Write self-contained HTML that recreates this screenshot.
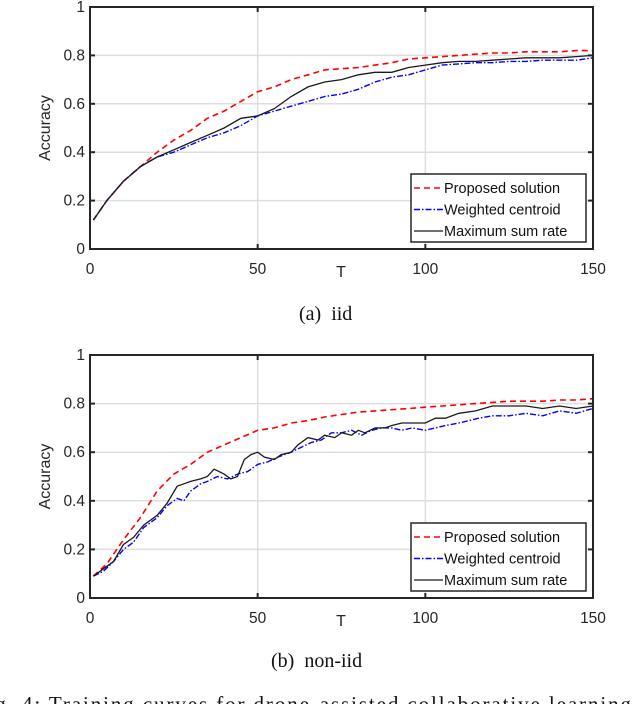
<!DOCTYPE html>
<html><head><meta charset="utf-8"><style>
html,body{margin:0;padding:0;background:#fff;width:636px;height:704px;overflow:hidden;position:relative}
svg{position:absolute;left:0;top:0}
.cap{position:absolute;font-family:"Liberation Serif",serif;font-size:20px;color:#111;white-space:nowrap}
</style></head><body>
<svg id="chart" width="636" height="704"></svg>
<div class="cap" style="left:299px;top:303px">(a)&nbsp; iid</div>
<div class="cap" style="left:271px;top:650px">(b)&nbsp; non-iid</div>
<div class="cap" style="left:-26px;top:692px;font-size:21px;letter-spacing:1.9px">Fig. 4: Training curves for drone-assisted collaborative learning</div>
<script>
const xTicks=[0,50,100,150];
const yTicks=[0,0.2,0.4,0.6,0.8,1];
const yTickLabels=["0","0.2","0.4","0.6","0.8","1"];
const seriesNames=["Proposed solution","Weighted centroid","Maximum sum rate"];
// iid
const iidPropT=[1,5,10,15,20,25,30,35,40,45,50,55,60,65,70,75,80,85,90,95,100,105,110,115,120,125,130,135,140,145,150];
const iidPropV=[.12,.2,.28,.34,.4,.45,.49,.54,.57,.61,.65,.67,.7,.72,.74,.745,.75,.76,.77,.785,.79,.795,.8,.805,.81,.81,.815,.815,.815,.82,.82];
const iidWcT=[1,5,10,15,20,25,30,35,40,45,50,55,60,65,70,75,80,85,90,95,100,105,110,115,120,125,130,135,140,145,150];
const iidWcV=[.12,.2,.28,.34,.38,.4,.43,.46,.48,.51,.55,.57,.59,.61,.63,.64,.66,.69,.71,.72,.74,.76,.765,.77,.77,.775,.775,.78,.78,.78,.79];
const iidMsT=[1,5,10,15,20,25,30,35,40,45,50,55,60,65,70,75,80,85,90,95,100,105,110,115,120,125,130,135,140,145,150];
const iidMsV=[.12,.2,.28,.34,.38,.41,.44,.47,.5,.54,.55,.58,.63,.67,.69,.7,.72,.73,.73,.75,.76,.77,.775,.775,.78,.785,.79,.79,.79,.795,.8];
// non-iid
const nPropT=[1,5,10,15,20,25,30,35,40,45,50,55,60,65,70,75,80,85,90,95,100,105,110,115,120,125,130,135,140,145,150];
const nPropV=[.09,.14,.24,.33,.44,.51,.55,.6,.63,.66,.69,.7,.72,.73,.745,.755,.765,.77,.775,.78,.785,.79,.795,.8,.805,.81,.81,.81,.815,.815,.82];
const nMsT=[1,4,7,10,13,16,20,23,26,28,30,33,35,37,40,42,44,46,48,50,52,55,57,60,62,65,68,70,73,75,78,80,82,85,88,90,93,95,98,100,103,106,110,115,120,125,130,135,140,145,150];
const nMsV=[.09,.12,.15,.22,.25,.3,.34,.39,.46,.47,.48,.49,.5,.53,.51,.49,.5,.57,.59,.6,.58,.57,.59,.6,.63,.66,.65,.67,.66,.68,.67,.69,.68,.7,.7,.71,.72,.72,.72,.72,.74,.74,.76,.77,.79,.79,.79,.78,.79,.78,.79];
const nWcT=[1,4,7,10,13,16,20,23,26,28,30,33,35,38,41,44,47,50,53,56,60,63,66,69,72,75,78,81,84,87,90,93,96,100,103,106,110,113,116,120,125,130,135,140,145,150];
const nWcV=[.09,.11,.15,.2,.23,.29,.33,.38,.41,.4,.44,.47,.48,.5,.49,.51,.52,.55,.56,.58,.6,.62,.64,.65,.68,.68,.69,.67,.69,.7,.7,.69,.7,.69,.7,.71,.72,.73,.74,.75,.75,.76,.75,.77,.76,.78];

const NS="http://www.w3.org/2000/svg";
const svg=document.getElementById('chart');
function mk(t,a,p){const e=document.createElementNS(NS,t);for(const k in a)e.setAttribute(k,a[k]);(p||svg).appendChild(e);return e;}
const X0=90,X1=593;
function drawPanel(top,bottom,series,legTop,name){
  const g=mk('g',{});
  
  
  const sx=v=>X0+(v/150)*(X1-X0);
  const sy=v=>bottom-v*(bottom-top);
  xTicks.forEach(t=>{if(t>0&&t<150){const l=mk('line',{x1:sx(t),x2:sx(t),y1:top,y2:bottom,stroke:'#dedede','stroke-width':1.5},g);}});
  yTicks.forEach(t=>{if(t>0&&t<1){const l=mk('line',{x1:X0,x2:X1,y1:sy(t),y2:sy(t),stroke:'#dedede','stroke-width':1.5},g);}});
  const styles=[{c:'#ff0000',d:'6,4',w:1.6},{c:'#0000ff',d:'6,2,1.5,2',w:1.4},{c:'#1a1a1a',d:'',w:1.3}];
  series.forEach((s,i)=>{
    const pts=s[0].map((t,j)=>sx(t).toFixed(1)+','+sy(s[1][j]).toFixed(1)).join(' ');
    const p=mk('polyline',{points:pts,fill:'none',stroke:styles[i].c,'stroke-width':styles[i].w,'stroke-dasharray':styles[i].d},g);
    
    
  });
  const fr=mk('rect',{x:X0,y:top,width:X1-X0,height:bottom-top,fill:'none',stroke:'#262626','stroke-width':2},g);
  
  
  xTicks.forEach(t=>{
    mk('line',{x1:sx(t),x2:sx(t),y1:bottom,y2:bottom-5,stroke:'#262626','stroke-width':2},g);
    mk('line',{x1:sx(t),x2:sx(t),y1:top,y2:top+5,stroke:'#262626','stroke-width':2},g);
    const tx=mk('text',{x:sx(t),y:bottom+25,'text-anchor':'middle','font-family':'Liberation Sans, sans-serif','font-size':15.5,fill:'#262626'},g);
    tx.textContent=t;
    
    
  });
  yTicks.forEach((t,i)=>{
    mk('line',{x1:X0,x2:X0+5,y1:sy(t),y2:sy(t),stroke:'#262626','stroke-width':2},g);
    mk('line',{x1:X1,x2:X1-5,y1:sy(t),y2:sy(t),stroke:'#262626','stroke-width':2},g);
    const tx=mk('text',{x:X0-5,y:sy(t)+5,'text-anchor':'end','font-family':'Liberation Sans, sans-serif','font-size':15.5,fill:'#262626'},g);
    tx.textContent=yTickLabels[i];
    
    
  });
  const yl=mk('text',{x:0,y:0,transform:'translate(50,'+((top+bottom)/2)+') rotate(-90)','text-anchor':'middle','font-family':'Liberation Sans, sans-serif','font-size':16,fill:'#262626'},g);
  yl.textContent='Accuracy';
  
  
  const xl=mk('text',{x:341,y:bottom+28,'text-anchor':'middle','font-family':'Liberation Sans, sans-serif','font-size':16,fill:'#262626'},g);
  xl.textContent='T';
  
  
  const lg=mk('g',{},g);
  
  
  mk('rect',{x:411,y:legTop,width:175,height:68,fill:'#fff',stroke:'#262626','stroke-width':1.5},lg);
  seriesNames.forEach((n,i)=>{
    const yy=legTop+14+i*21.5;
    const e=mk('g',{},lg);
    
    
    mk('line',{x1:414,x2:443,y1:yy,y2:yy,stroke:styles[i].c,'stroke-width':styles[i].w,'stroke-dasharray':styles[i].d},e);
    const tt=mk('text',{x:444,y:yy+5,'font-family':'Liberation Sans, sans-serif','font-size':14.5,fill:'#111'},e);
    tt.textContent=n;
  });
}
drawPanel(7,249,[[iidPropT,iidPropV],[iidWcT,iidWcV],[iidMsT,iidMsV]],174,'panel-iid');
drawPanel(355,598,[[nPropT,nPropV],[nWcT,nWcV],[nMsT,nMsV]],523,'panel-non-iid');
</script>
</body></html>
